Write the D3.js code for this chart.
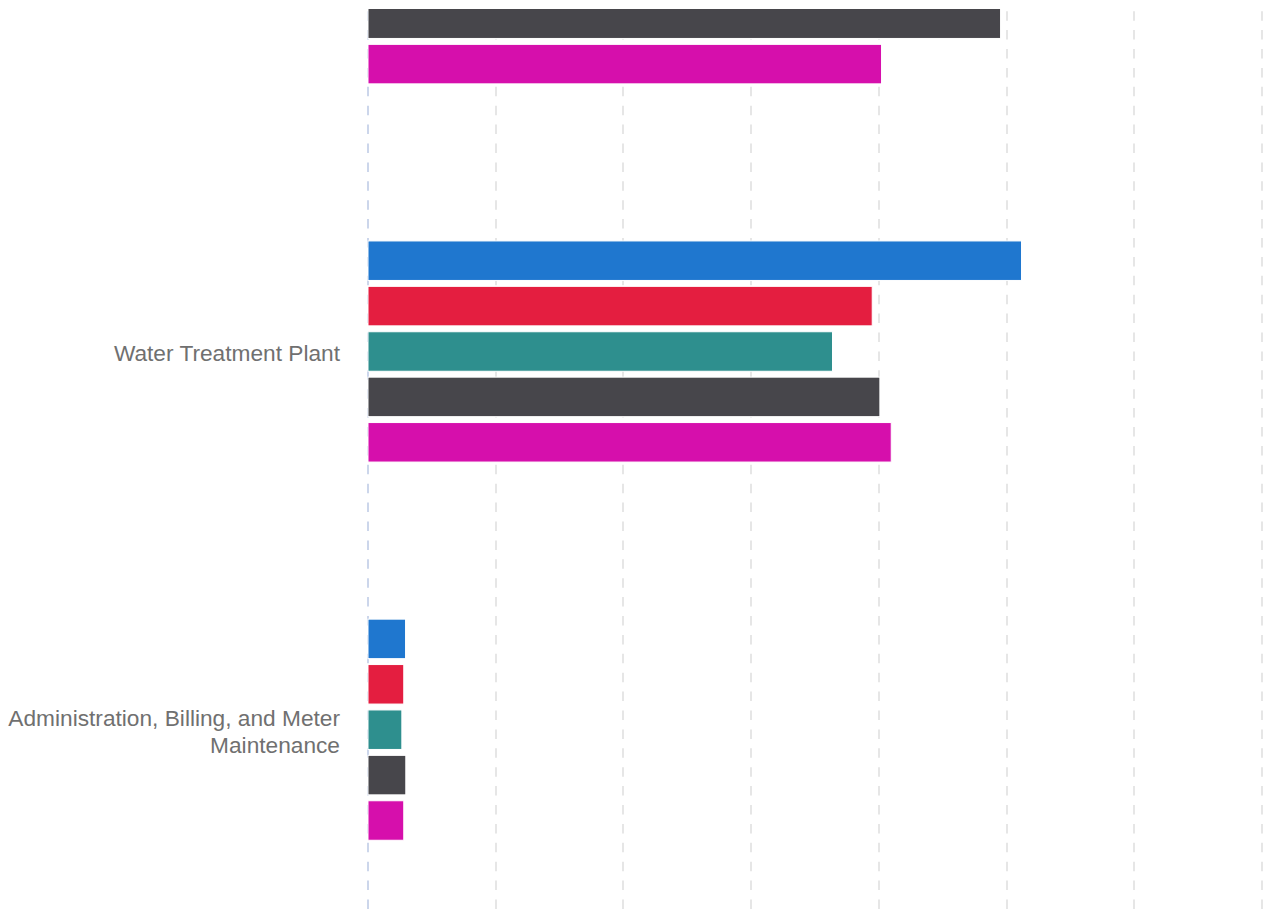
<!DOCTYPE html>
<html>
<head>
<meta charset="utf-8">
<script src="https://cdn.jsdelivr.net/npm/d3@7"></script>
<style>
  html, body { margin: 0; padding: 0; background: #ffffff; }
  svg { display: block; }
</style>
</head>
<body>
<div id="chart"></div>
<script>
// Categories (the first one sits above the visible plot window)
const categories = ["", "Water Treatment Plant", "Administration, Billing, and Meter Maintenance"];
const seriesKeys = ["s1", "s2", "s3", "s4", "s5"];
const seriesColors = ["#1f77cf", "#e41e40", "#2e8f8e", "#47464b", "#d60fac"];

// Values per series, one per category (in millions)
const s1 = [null, 5.117, 0.294];
const s2 = [null, 3.948, 0.280];
const s3 = [null, 3.637, 0.265];
const s4 = [4.953, 4.008, 0.296];
const s5 = [4.021, 4.097, 0.280];
const seriesValues = [s1, s2, s3, s4, s5];

// Value-axis ticks
const xTicks = [0, 1, 2, 3, 4, 5, 6, 7];

const W = 1273, H = 918;
const plotTop = 9, plotBottom = 909;
const plotLeft = 368, plotRight = 1262;

const svg = d3.select("#chart").append("svg")
  .attr("width", W).attr("height", H);

const x = d3.scaleLinear().domain([0, 7]).range([plotLeft, plotRight]);

const y = d3.scaleBand().domain(categories).range([-215.8, 918.8]).paddingInner(0).paddingOuter(0);
const yInner = d3.scaleBand().domain(seriesKeys).range([0, y.bandwidth()])
  .paddingInner(0.13).paddingOuter(1.73);

svg.append("defs").append("clipPath").attr("id", "plotClip")
  .append("rect")
  .attr("x", 0).attr("y", plotTop)
  .attr("width", W).attr("height", plotBottom - plotTop);

const plot = svg.append("g").attr("clip-path", "url(#plotClip)");

// Dashed vertical grid lines, drawn from the bottom of the plot upward
plot.append("g").selectAll("path")
  .data(xTicks)
  .join("path")
  .attr("d", d => `M${Math.round(x(d))},${plotBottom}V${plotTop}`)
  .attr("stroke", d => d === 0 ? "#ccd6eb" : "#e6e6e6")
  .attr("stroke-width", 2)
  .attr("stroke-dasharray", "9.5,9.4")
  .attr("fill", "none");

// Bars
const rows = [];
categories.forEach((c, ci) => {
  seriesKeys.forEach((k, si) => {
    const v = seriesValues[si][ci];
    if (v != null) rows.push({ cat: c, key: k, value: v, color: seriesColors[si] });
  });
});

plot.append("g").selectAll("rect")
  .data(rows)
  .join("rect")
  .attr("x", x(0))
  .attr("y", d => y(d.cat) + yInner(d.key))
  .attr("width", d => x(d.value) - x(0))
  .attr("height", yInner.bandwidth())
  .attr("fill", d => d.color)
  .attr("stroke", "#ffffff")
  .attr("stroke-width", 1);

// Category labels, word-wrapped and right-aligned
const fontSize = 22.7;
const labelFont = `${fontSize}px 'Liberation Sans', Arial, sans-serif`;
const measureCtx = document.createElement("canvas").getContext("2d");
measureCtx.font = labelFont;
function wrap(text, maxWidth) {
  const words = text.split(" ");
  const lines = [];
  let line = "";
  words.forEach(w => {
    const test = line ? line + " " + w : w;
    if (line && measureCtx.measureText(test).width > maxWidth) {
      lines.push(line);
      line = w;
    } else {
      line = test;
    }
  });
  if (line) lines.push(line);
  return lines;
}

const lineHeight = 27.4;
const labels = svg.append("g")
  .attr("font-family", "'Liberation Sans', Arial, sans-serif")
  .attr("font-size", fontSize + "px")
  .attr("fill", "#707070")
  .attr("text-anchor", "end");

categories.filter(c => c).forEach(c => {
  const lines = wrap(c, 340);
  const cy = y(c) + y.bandwidth() / 2;
  const t = labels.append("text");
  lines.forEach((ln, i) => {
    t.append("tspan")
      .attr("x", 340)
      .attr("y", cy + 9.5 + (i - (lines.length - 1) / 2) * lineHeight)
      .text(ln);
  });
});
</script>
</body>
</html>
